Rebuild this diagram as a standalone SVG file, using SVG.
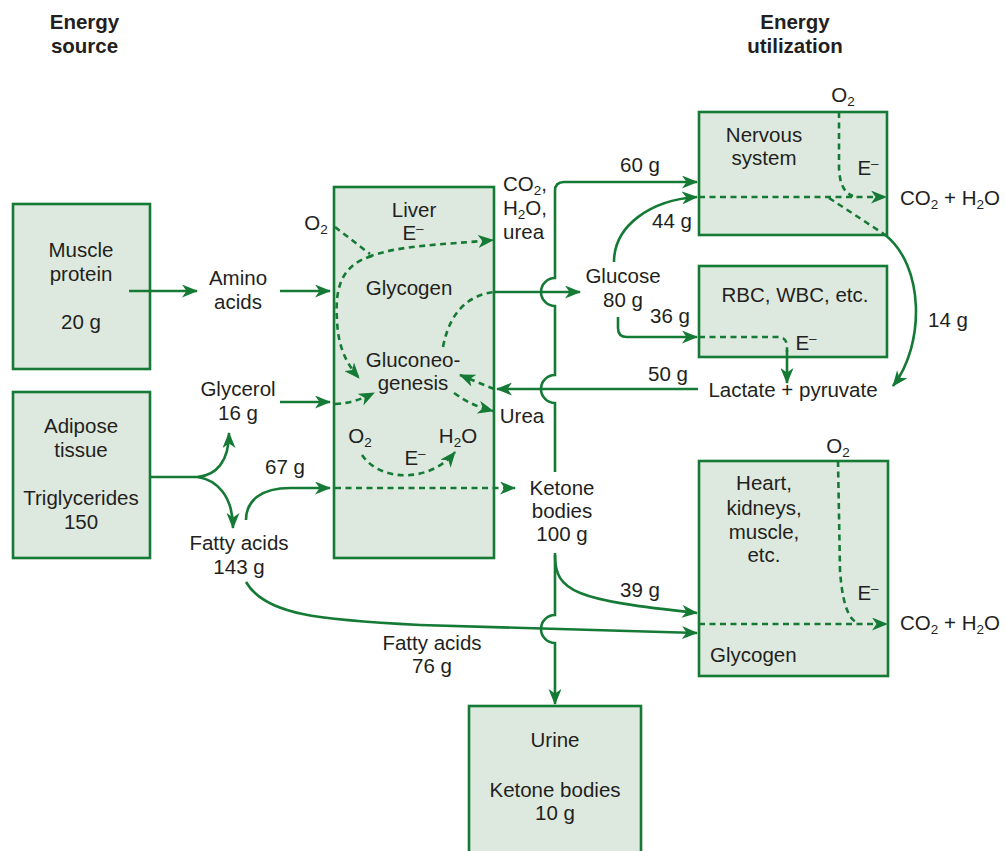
<svg xmlns="http://www.w3.org/2000/svg" width="1005" height="851" viewBox="0 0 1005 851">
<defs>
<style>
text{font-family:"Liberation Sans",Arial,sans-serif;font-size:20.5px;fill:#231f20;text-anchor:middle}
.b{font-weight:bold}
.l{text-anchor:start}
.sub{font-size:13.5px}
.box{fill:#dde9de;stroke:#157a35;stroke-width:2.6}
.s{fill:none;stroke:#157a35;stroke-width:2.6}
.d{fill:none;stroke:#157a35;stroke-width:2.6;stroke-dasharray:6 4.5}
.a{marker-end:url(#ah)}
</style>
<marker id="ah" viewBox="0 0 16 13" refX="15" refY="6.5" markerWidth="16" markerHeight="13" markerUnits="userSpaceOnUse" orient="auto">
<path d="M0,0 L16,6.5 L0,13 L4.5,6.5 Z" fill="#157a35"/>
</marker>
</defs>
<rect width="1005" height="851" fill="#ffffff"/>

<g id="headings">
<text class="b" x="84.5" y="29">Energy</text>
<text class="b" x="84.5" y="53">source</text>
<text class="b" x="795" y="29">Energy</text>
<text class="b" x="795" y="53">utilization</text>
</g>

<g id="muscle-protein">
<rect class="box" x="13" y="204" width="137" height="165"/>
<text x="81" y="257">Muscle</text>
<text x="81" y="281">protein</text>
<text x="81" y="329">20 g</text>
</g>

<g id="adipose">
<rect class="box" x="13" y="392" width="137" height="166"/>
<text x="81" y="433">Adipose</text>
<text x="81" y="457">tissue</text>
<text x="81" y="505">Triglycerides</text>
<text x="81" y="529">150</text>
</g>

<g id="liver">
<rect class="box" x="334" y="187" width="160" height="371"/>
<text x="414" y="217">Liver</text>
<text x="413" y="240">E<tspan class="sub" dy="-7">–</tspan></text>
<text x="409" y="295">Glycogen</text>
<text x="413" y="367">Gluconeo-</text>
<text x="413" y="390">genesis</text>
<text x="360" y="443">O<tspan class="sub" dy="4">2</tspan></text>
<text x="458" y="443">H<tspan class="sub" dy="4">2</tspan><tspan dy="-4">O</tspan></text>
<text x="415" y="465">E<tspan class="sub" dy="-7">–</tspan></text>
</g>

<g id="nervous-system">
<rect class="box" x="699" y="112" width="188" height="123"/>
<text x="764" y="142">Nervous</text>
<text x="764" y="165">system</text>
<text x="868" y="175">E<tspan class="sub" dy="-7">–</tspan></text>
</g>

<g id="rbc">
<rect class="box" x="699" y="266" width="188" height="91"/>
<text x="795" y="302">RBC, WBC, etc.</text>
<text x="806" y="350">E<tspan class="sub" dy="-7">–</tspan></text>
</g>

<g id="heart">
<rect class="box" x="699" y="461" width="189" height="215"/>
<text x="764" y="490">Heart,</text>
<text x="764" y="515">kidneys,</text>
<text x="764" y="539">muscle,</text>
<text x="764" y="562">etc.</text>
<text x="868" y="600">E<tspan class="sub" dy="-7">–</tspan></text>
<text class="l" x="710" y="662">Glycogen</text>
</g>

<g id="urine">
<rect class="box" x="469" y="706" width="172" height="160"/>
<text x="555" y="747">Urine</text>
<text x="555" y="797">Ketone bodies</text>
<text x="555" y="820">10 g</text>
</g>

<g id="labels">
<text x="238" y="285">Amino</text>
<text x="238" y="309">acids</text>
<text x="238" y="396">Glycerol</text>
<text x="238" y="420">16 g</text>
<text x="285" y="474">67 g</text>
<text x="239" y="550">Fatty acids</text>
<text x="239" y="574">143 g</text>
<text x="432" y="650">Fatty acids</text>
<text x="432" y="673">76 g</text>
<text x="316" y="230">O<tspan class="sub" dy="4">2</tspan></text>
<text class="l" x="503" y="191">CO<tspan class="sub" dy="4">2</tspan><tspan dy="-4">,</tspan></text>
<text class="l" x="503" y="215">H<tspan class="sub" dy="4">2</tspan><tspan dy="-4">O,</tspan></text>
<text class="l" x="503" y="239">urea</text>
<text x="522" y="423">Urea</text>
<text x="623" y="283">Glucose</text>
<text x="623" y="307">80 g</text>
<text x="640" y="172">60 g</text>
<text x="672" y="228">44 g</text>
<text x="670" y="323">36 g</text>
<text x="668" y="381">50 g</text>
<text x="793" y="397">Lactate + pyruvate</text>
<text x="948" y="327">14 g</text>
<text x="562" y="495">Ketone</text>
<text x="562" y="518">bodies</text>
<text x="562" y="541">100 g</text>
<text x="640" y="597">39 g</text>
<text x="843" y="102">O<tspan class="sub" dy="4">2</tspan></text>
<text x="838" y="453">O<tspan class="sub" dy="4">2</tspan></text>
<text class="l" x="900" y="205">CO<tspan class="sub" dy="4">2</tspan><tspan dy="-4"> + H</tspan><tspan class="sub" dy="4">2</tspan><tspan dy="-4">O</tspan></text>
<text class="l" x="900" y="630">CO<tspan class="sub" dy="4">2</tspan><tspan dy="-4"> + H</tspan><tspan class="sub" dy="4">2</tspan><tspan dy="-4">O</tspan></text>
</g>

<g id="connectors">
<path class="s a" d="M129 291 L197 291"/>
<path class="s a" d="M280 291 L330 291"/>
<path class="s a" d="M280 402 L330 402"/>
<path class="s" d="M150 477 L200 477"/>
<path class="s a" d="M198 477 C216 475 229 462 229 433"/>
<path class="s a" d="M198 477 C216 480 233 495 233 528"/>
<path class="s a" d="M246 520 C246 500 262 488 290 488 L330 488"/>
<path class="s a" d="M246 582 C265 615 320 620 420 625 L697 633"/>
<path class="s a" d="M494 292 L580 292"/>
<path class="s a" d="M698 389 L497 389"/>
<path class="s a" d="M555 472 L555 403 A14 14 0 0 1 555 375 L555 306 A14 14 0 0 1 555 278 L555 191 Q555 182 564 182 L697 182"/>
<path class="s a" d="M555 553 L555 615 A14 14 0 0 0 555 643 L555 704"/>
<path class="s a" d="M555 555 C555 592 575 600 697 613"/>
<path class="s a" d="M614 262 C614 226 650 200 697 197"/>
<path class="s a" d="M618 317 L618 328 Q618 337 627 337 L697 337"/>
<path class="s a" d="M884 234 C925 265 925 345 893 386"/>
<path class="s a" d="M787 350 L787 383"/>
<path class="d" d="M335 227 L370 254"/>
<path class="d a" d="M368 257 C400 245 440 245 493 240"/>
<path class="d a" d="M372 256 C340 265 335 290 337 320 C338 345 345 362 359 378"/>
<path class="d" d="M443 347 C450 310 470 295 494 292"/>
<path class="d a" d="M494 389 L460 375"/>
<path class="d a" d="M454 393 C468 403 478 407 493 411"/>
<path class="d a" d="M335 404 C350 403 360 400 374 393"/>
<path class="d a" d="M362 455 C380 482 430 483 455 452"/>
<path class="d a" d="M335 488 L515 488"/>
<path class="d a" d="M699 197 L886 197"/>
<path class="d" d="M839 112 L839 168 Q840 192 853 196"/>
<path class="d" d="M829 198 L884 234"/>
<path class="d" d="M699 337 L778 337 Q787 337 787 347 L787 352"/>
<path class="d a" d="M699 624 L887 624"/>
<path class="d" d="M838 461 L840 570 Q843 615 856 622"/>
</g>
</svg>
